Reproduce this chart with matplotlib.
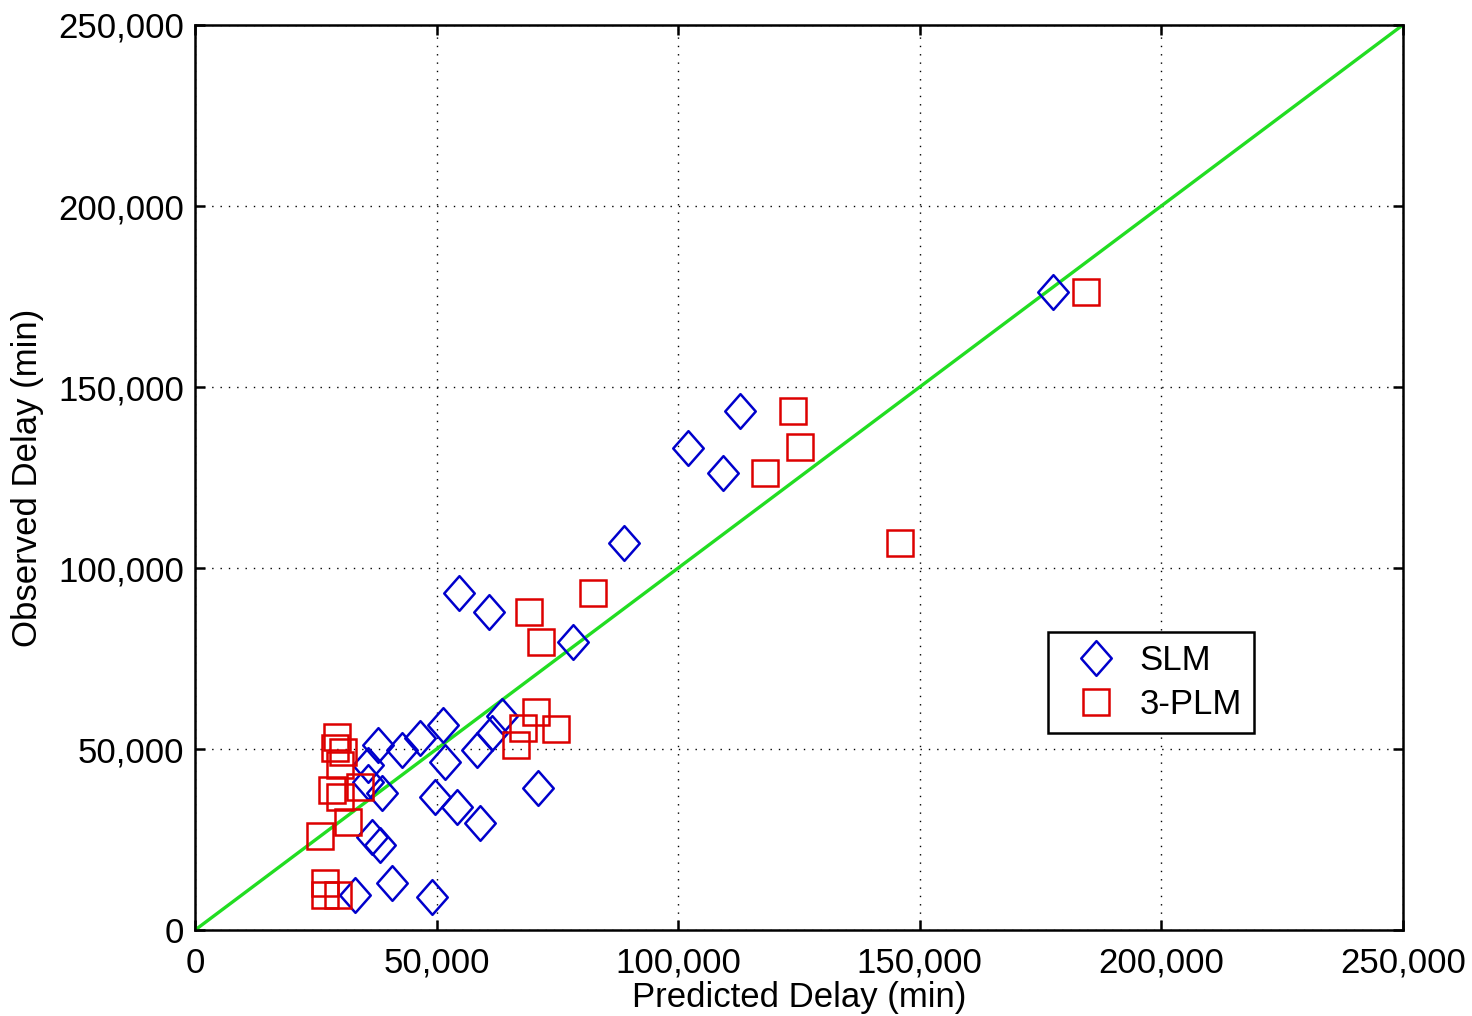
import matplotlib
matplotlib.use("Agg")
import matplotlib.pyplot as plt
from matplotlib.path import Path
from matplotlib.ticker import FuncFormatter, MultipleLocator

plt.rcParams['font.family'] = ['Liberation Sans', 'DejaVu Sans']

# Predicted vs observed delay (min)
slm_pred = [177600, 112800, 102000, 109300, 88800, 54600, 60800, 78200,
            63500, 61500, 58400, 51300, 51700, 46600, 42800, 37900, 35800,
            38700, 35800, 49700, 54200, 59000, 71000, 36600, 38300, 40800,
            33100, 49000]
slm_obs = [176200, 143400, 133100, 126200, 106900, 93100, 87800, 79600,
           59100, 54400, 49700, 56600, 46400, 53000, 49700, 51100, 45600,
           37800, 40900, 36700, 34000, 29600, 39200, 25700, 23500, 13000,
           9700, 9100]

plm_pred = [184400, 123800, 125200, 117900, 145900, 82400, 69100, 71600,
            70600, 67900, 74700, 66400, 29400, 29000, 30600, 30000, 34100,
            28300, 30000, 31700, 25900, 26900, 26900, 29600]
plm_obs = [176200, 143400, 133400, 126200, 106900, 93100, 87800, 79600,
           60200, 55800, 55500, 51100, 53300, 50300, 49200, 45600, 39500,
           38700, 36700, 29800, 26000, 13000, 9700, 9700]

axis_max = 250000

fig = plt.figure(figsize=(14.72, 10.16), dpi=100)
ax = fig.add_axes([0.1325, 0.0846, 0.8205, 0.8908])

# slightly tall diamond marker
diamond = Path([(0, -1), (0.88, 0), (0, 1), (-0.88, 0), (0, -1)],
               [Path.MOVETO, Path.LINETO, Path.LINETO, Path.LINETO, Path.CLOSEPOLY])

ax.plot([0, axis_max], [0, axis_max], color='#22dd22', lw=2.4, zorder=2)
ax.plot(slm_pred, slm_obs, linestyle='none', marker=diamond, markersize=25,
        markerfacecolor='none', markeredgecolor='#0000cc', markeredgewidth=1.8,
        label='SLM', zorder=3)
ax.plot(plm_pred, plm_obs, linestyle='none', marker='s', markersize=19,
        markerfacecolor='none', markeredgecolor='#dd0000', markeredgewidth=1.8,
        label='3-PLM', zorder=3)

ax.set_xlim(0, axis_max)
ax.set_ylim(0, axis_max)
ax.xaxis.set_major_locator(MultipleLocator(50000))
ax.yaxis.set_major_locator(MultipleLocator(50000))
fmt = FuncFormatter(lambda v, p: f"{int(v):,}")
ax.xaxis.set_major_formatter(fmt)
ax.yaxis.set_major_formatter(fmt)

ax.grid(True, color='black', linestyle=(0, (1, 5)), linewidth=1.0)
ax.tick_params(direction='in', length=7, width=1.8, labelsize=25,
               top=True, right=True)
ax.tick_params(axis='x', pad=12)
ax.tick_params(axis='y', pad=8)
for s in ax.spines.values():
    s.set_linewidth(1.8)

ax.set_xlabel('Predicted Delay (min)', fontsize=25, labelpad=1)
ax.set_ylabel('Observed Delay (min)', fontsize=25, labelpad=10)

leg = ax.legend(loc='upper left', bbox_to_anchor=(0.706, 0.329),
                borderaxespad=0, fontsize=25, fancybox=False, framealpha=1,
                edgecolor='black', handlelength=2.1, handletextpad=0.2,
                borderpad=0.35, labelspacing=0.3, markerscale=1.0)
leg.get_frame().set_linewidth(1.8)

fig.savefig('out.png', dpi=100)
